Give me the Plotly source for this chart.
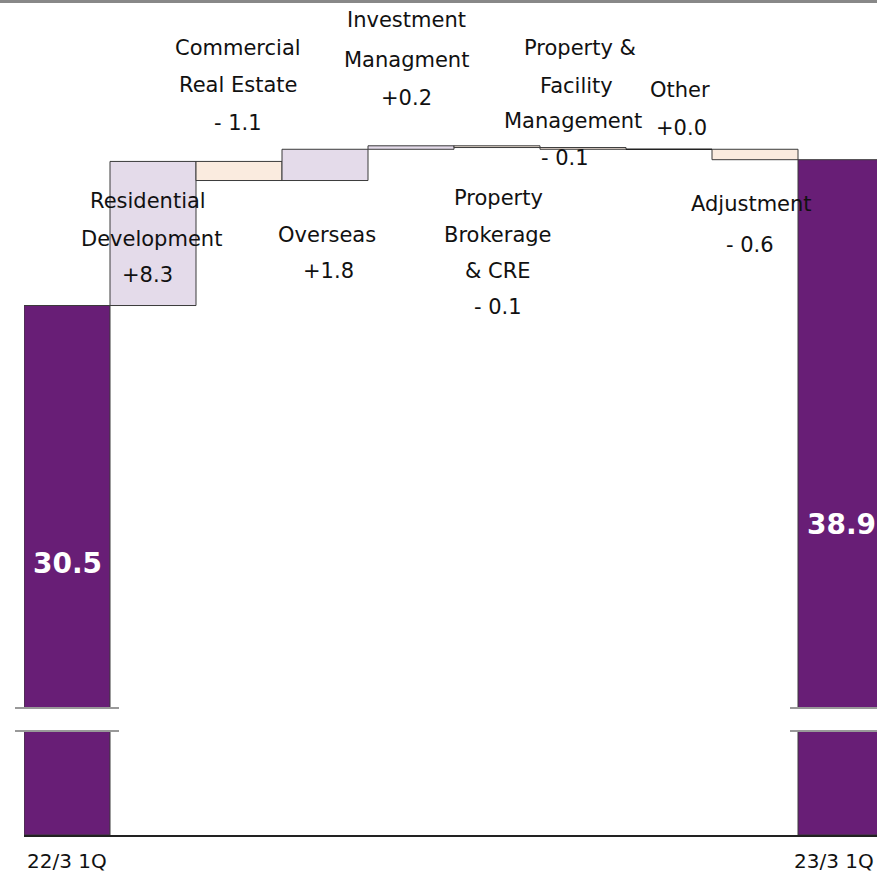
import plotly.graph_objects as go

categories = ["22/3 1Q", "Residential Development", "Commercial Real Estate", "Overseas",
              "Investment Managment", "Property Brokerage & CRE", "Property & Facility Management",
              "Other", "Adjustment", "23/3 1Q"]
values = [30.5, 8.3, -1.1, 1.8, 0.2, -0.1, -0.1, 0.0, -0.6, 38.9]
measures = ["absolute", "relative", "relative", "relative", "relative", "relative",
            "relative", "relative", "relative", "total"]
tick_labels = ["22/3 1Q", "", "", "", "", "", "", "", "", "23/3 1Q"]

PURPLE = "#681E76"
LAVENDER = "#E4DBEA"
PEACH = "#FAEBDF"
FONT = "DejaVu Sans"

W, H = 877, 873
ML, MR, MT, MB = 24, 0, 3, 38
PW, PH = W - ML - MR, H - MT - MB
SLOT = 86.0
XMAX = -0.5 + PW / SLOT
PXU = 17.36
YMAX = PH / PXU


def dy(pix):
    return (H - MB - pix) / PXU


def dx(pix):
    return (pix - ML) / SLOT - 0.5


def px(p):
    return (p - ML) / PW


def py(p):
    return (H - MB - p) / PH


fig = go.Figure()
fig.add_trace(go.Waterfall(
    x=list(range(len(categories))),
    y=values,
    measure=measures,
    width=[1.0] * len(categories),
    increasing=dict(marker=dict(color=LAVENDER, line=dict(color="#3a3a3a", width=1))),
    decreasing=dict(marker=dict(color=PEACH, line=dict(color="#3a3a3a", width=1))),
    totals=dict(marker=dict(color=PURPLE, line=dict(color="#3a3a3a", width=1))),
    connector=dict(visible=False),
    hovertext=categories,
    showlegend=False,
))

# zero-change items drawn as a flat line at the running level
level = 0.0
for i, (v, m) in enumerate(zip(values, measures)):
    if m == "absolute":
        level = v
    elif m == "relative":
        level += v
        if v == 0:
            fig.add_trace(go.Scatter(x=[i - 0.5, i + 0.5], y=[level, level], mode="lines",
                                     line=dict(color="#222", width=1.5), showlegend=False,
                                     hoverinfo="skip"))

# Labels: (lines, center x px, center y px list)
labels = [
    (["Commercial", "Real Estate", "- 1.1"], [238, 238, 238], [48, 85, 123]),
    (["Investment", "Managment", "+0.2"], [406, 406, 406], [20, 60, 98]),
    (["Property &", "Facility", "Management", "- 0.1"], [580, 576, 573, 565], [48, 86, 121, 158]),
    (["Other", "+0.0"], [680, 681], [90, 128]),
    (["Residential", "Development", "+8.3"], [148, 151, 147], [201, 239, 275]),
    (["Overseas", "+1.8"], [327, 328], [235, 271]),
    (["Property", "Brokerage", "& CRE", "- 0.1"], [498, 498, 498, 498], [198, 235, 271, 307]),
    (["Adjustment", "- 0.6"], [751, 750], [204, 245]),
]
anns = []
for lines, xs, ys in labels:
    for t, xp, yp in zip(lines, xs, ys):
        anns.append(dict(x=dx(xp), y=dy(yp), xref="x", yref="y", text=t, showarrow=False,
                         font=dict(family=FONT, size=21, color="#111"),
                         xanchor="center", yanchor="middle"))
anns.append(dict(x=0, y=dy(563), xref="x", yref="y", text="<b>%.1f</b>" % values[0], showarrow=False,
                 font=dict(family=FONT, size=28, color="white"), xanchor="center", yanchor="middle"))
anns.append(dict(x=9, y=dy(524), xref="x", yref="y", text="<b>%.1f</b>" % values[-1], showarrow=False,
                 font=dict(family=FONT, size=28, color="white"), xanchor="center", yanchor="middle"))

# category labels under the axis (last one kept inside the page edge)
for i, t in enumerate(tick_labels):
    if not t:
        continue
    if i == len(tick_labels) - 1:
        anns.append(dict(x=px(W - 1), y=py(861), xref="paper", yref="paper", text=t, showarrow=False,
                         font=dict(family=FONT, size=20, color="#111"), xanchor="right", yanchor="middle"))
    else:
        anns.append(dict(x=i, y=py(861), xref="x", yref="paper", text=t, showarrow=False,
                         font=dict(family=FONT, size=20, color="#111"), xanchor="center", yanchor="middle"))

shapes = []
# axis break marks
for x0, x1, bx0, bx1 in [(15, 119, 22, 112), (790, 890, 796, 890)]:
    shapes.append(dict(type="rect", xref="paper", yref="paper", x0=px(bx0), x1=px(bx1),
                       y0=py(730), y1=py(709), fillcolor="white", line=dict(width=0), layer="above"))
    for yy in (708, 731):
        shapes.append(dict(type="line", xref="paper", yref="paper", x0=px(x0), x1=px(x1),
                           y0=py(yy), y1=py(yy), line=dict(color="#999999", width=2), layer="above"))
# top border
shapes.append(dict(type="line", xref="paper", yref="paper", x0=px(0), x1=px(W + 5),
                   y0=py(1.5), y1=py(1.5), line=dict(color="#888888", width=3), layer="above"))

fig.update_layout(
    width=W, height=H,
    margin=dict(l=ML, r=MR, t=MT, b=MB, pad=0, autoexpand=False),
    paper_bgcolor="white", plot_bgcolor="white",
    font=dict(family=FONT, size=20, color="#111"),
    xaxis=dict(range=[-0.5, XMAX], showticklabels=False, showgrid=False, zeroline=False,
               showline=True, linecolor="#222", linewidth=1.5, ticks="", automargin=False),
    yaxis=dict(range=[0, YMAX], visible=False, showgrid=False, zeroline=False, automargin=False),
    annotations=anns,
    shapes=shapes,
    bargap=0,
)

fig.write_html("out.html")
